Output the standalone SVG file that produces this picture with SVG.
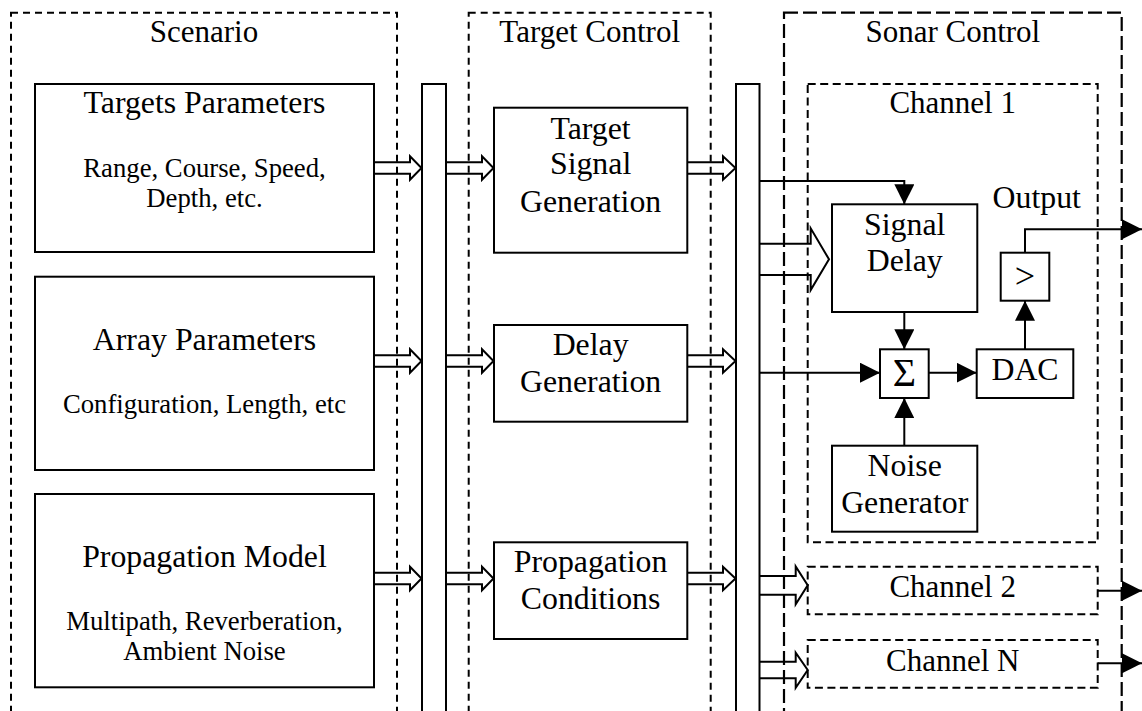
<svg xmlns="http://www.w3.org/2000/svg" width="1142" height="711" viewBox="0 0 1142 711">
<style>
text{fill:#000;text-anchor:middle}
.hd{font-size:31px}
.t{font-size:31.8px}
.s{font-size:26.7px}
.box{fill:#fff;stroke:#000;stroke-width:2}
.bus{fill:#fff;stroke:#000;stroke-width:2}
.d1{fill:none;stroke:#000;stroke-width:2;stroke-dasharray:7 5}
.d2{fill:none;stroke:#000;stroke-width:2.2;stroke-dasharray:14 5}
.d3{fill:none;stroke:#000;stroke-width:2;stroke-dasharray:8 4.5}
.h{fill:none;stroke:#000;stroke-width:2;stroke-linejoin:miter}
.w{fill:none;stroke:#000;stroke-width:2}
</style>
<defs>
<marker id="ah" viewBox="0 0 20 20" markerWidth="20" markerHeight="20" refX="20" refY="10" orient="auto" markerUnits="userSpaceOnUse">
<path d="M0,0 L20,10 L0,20 z" fill="#000"/>
</marker>
</defs>
<g font-family="Liberation Serif, serif">
<g id="scenario">
<rect class="d1" x="11" y="12.7" width="386" height="720"/>
<text class="hd" x="204" y="42">Scenario</text>
</g>
<g id="target-control">
<rect class="d1" x="468.7" y="12.7" width="242" height="720"/>
<text class="hd" x="589.7" y="42">Target Control</text>
</g>
<g id="sonar-control">
<rect class="d2" x="784" y="12.7" width="337.7" height="720"/>
<text class="hd" x="952.8" y="42">Sonar Control</text>
</g>

<g id="targets-parameters">
<rect class="box" x="35" y="84" width="339" height="168"/>
<text class="t" x="204.5" y="113">Targets Parameters</text>
<text class="s" x="204.5" y="177">Range, Course, Speed,</text>
<text class="s" x="204.5" y="207">Depth, etc.</text>
</g>
<g id="array-parameters">
<rect class="box" x="35" y="276.7" width="339" height="193.3"/>
<text class="t" x="204.5" y="350">Array Parameters</text>
<text class="s" x="204.5" y="413">Configuration, Length, etc</text>
</g>
<g id="propagation-model">
<rect class="box" x="35" y="494" width="339" height="193.3"/>
<text class="t" x="204.5" y="567">Propagation Model</text>
<text class="s" x="204.5" y="630">Multipath, Reverberation,</text>
<text class="s" x="204.5" y="660">Ambient Noise</text>
</g>

<g id="bus1"><rect class="bus" x="422" y="84" width="24" height="640"/></g>
<g id="bus2"><rect class="bus" x="736" y="84" width="23.5" height="640"/></g>

<g id="target-signal-generation">
<rect class="box" x="494" y="107.7" width="193.3" height="145"/>
<text class="t" x="590.6" y="139">Target</text>
<text class="t" x="590.6" y="174">Signal</text>
<text class="t" x="590.6" y="211.5">Generation</text>
</g>
<g id="delay-generation">
<rect class="box" x="494" y="325" width="193.3" height="96.7"/>
<text class="t" x="590.6" y="355">Delay</text>
<text class="t" x="590.6" y="391.7">Generation</text>
</g>
<g id="propagation-conditions">
<rect class="box" x="494" y="542.3" width="193.3" height="96.7"/>
<text class="t" x="590.6" y="571.7">Propagation</text>
<text class="t" x="590.6" y="609">Conditions</text>
</g>

<g id="channel-1">
<rect class="d3" x="807.7" y="84" width="290" height="458.3"/>
<text class="hd" x="952.7" y="113.3">Channel 1</text>
</g>
<g id="signal-delay">
<rect class="box" x="832" y="204.3" width="145.3" height="107.7"/>
<text class="t" x="904.7" y="235">Signal</text>
<text class="t" x="904.7" y="270.7">Delay</text>
</g>
<g id="sum">
<rect class="box" x="880" y="349.3" width="48.7" height="48.7"/>
<text x="904.3" y="385.5" style="font-size:40px">Σ</text>
</g>
<g id="dac">
<rect class="box" x="976.7" y="349.3" width="96.6" height="48.7"/>
<text class="t" x="1025" y="380">DAC</text>
</g>
<g id="amplifier">
<rect class="box" x="1000.7" y="252.7" width="48.6" height="48"/>
<text x="1025" y="288" style="font-size:36px">&gt;</text>
</g>
<g id="output-label">
<text class="t" x="1036.7" y="208.3">Output</text>
</g>
<g id="noise-generator">
<rect class="box" x="832" y="445.7" width="145.3" height="86"/>
<text class="t" x="904.7" y="475.7">Noise</text>
<text class="t" x="904.7" y="513.3">Generator</text>
</g>
<g id="channel-2">
<rect class="d3" x="807.7" y="566.7" width="290" height="47.6"/>
<text class="hd" x="952.7" y="596.7">Channel 2</text>
</g>
<g id="channel-n">
<rect class="d3" x="807.7" y="640" width="290" height="47.7"/>
<text class="hd" x="952.7" y="670.7">Channel N</text>
</g>
</g>
<g id="connectors">
<polyline class="h" points="374,162.3 410,162.3 410,156.3 421.5,168 410,179.7 410,173.7 374,173.7"/>
<polyline class="h" points="446,162.3 482,162.3 482,156.3 493.5,168 482,179.7 482,173.7 446,173.7"/>
<polyline class="h" points="687.3,162.3 723,162.3 723,156.3 735.5,168 723,179.7 723,173.7 687.3,173.7"/>
<polyline class="h" points="374,355.3 410,355.3 410,349.3 421.5,361 410,372.7 410,366.7 374,366.7"/>
<polyline class="h" points="446,355.3 482,355.3 482,349.3 493.5,361 482,372.7 482,366.7 446,366.7"/>
<polyline class="h" points="687.3,355.3 723,355.3 723,349.3 735.5,361 723,372.7 723,366.7 687.3,366.7"/>
<polyline class="h" points="374,572.8 410,572.8 410,566.8 421.5,578.5 410,590.2 410,584.2 374,584.2"/>
<polyline class="h" points="446,572.8 482,572.8 482,566.8 493.5,578.5 482,590.2 482,584.2 446,584.2"/>
<polyline class="h" points="687.3,572.8 723,572.8 723,566.8 735.5,578.5 723,590.2 723,584.2 687.3,584.2"/>
<polyline class="h" points="759.5,243.7 810.7,243.7 810.7,228.3 829,259.3 810.7,290 810.7,275 759.5,275"/>
<polyline class="h" points="759.5,576 795.7,576 795.7,566.5 807.7,585.3 795.7,604.3 795.7,594.7 759.5,594.7"/>
<polyline class="h" points="759.5,661.7 795.7,661.7 795.7,652.7 807.7,670 795.7,687.7 795.7,678.3 759.5,678.3"/>
<path class="w" d="M759.5,181 H904.3 V204.3" marker-end="url(#ah)"/>
<path class="w" d="M904.3,312 V349.3" marker-end="url(#ah)"/>
<path class="w" d="M759.5,372.7 H880" marker-end="url(#ah)"/>
<path class="w" d="M928.7,372.7 H976.7" marker-end="url(#ah)"/>
<path class="w" d="M1025,349.3 V300.7" marker-end="url(#ah)"/>
<path class="w" d="M904.3,445.7 V398" marker-end="url(#ah)"/>
<path class="w" d="M1025,252.7 V229.3 H1142" marker-end="url(#ah)"/>
<path class="w" d="M1097.7,590.7 H1142" marker-end="url(#ah)"/>
<path class="w" d="M1097.7,663.3 H1142" marker-end="url(#ah)"/>
</g>
</svg>
